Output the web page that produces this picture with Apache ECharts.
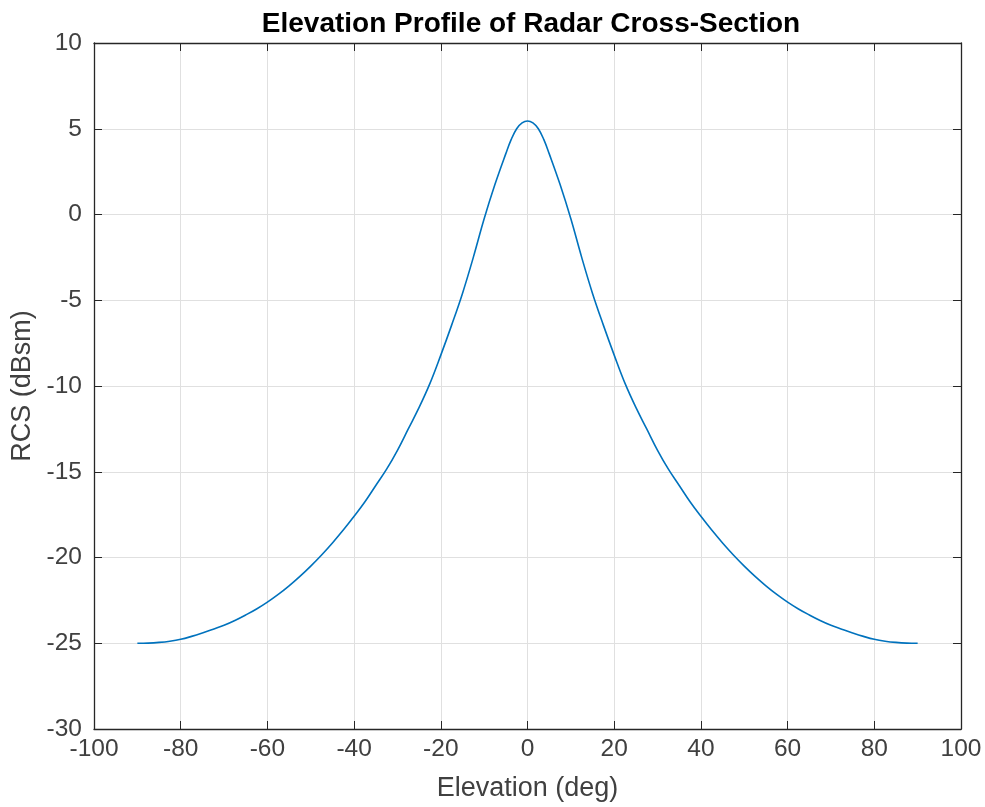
<!DOCTYPE html>
<html>
<head>
<meta charset="utf-8">
<script src="https://cdn.jsdelivr.net/npm/echarts@6/dist/echarts.min.js"></script>
<style>
  html, body { margin: 0; padding: 0; background: #fff; }
  #chart { width: 985px; height: 807px; }
</style>
</head>
<body>
<div id="chart"></div>
<script>
// elevation angles (deg) and RCS (dBsm)
const elevation = [-90, -87.5, -85, -82.5, -80, -77.5, -75, -72.5, -70, -67.5, -65, -62.5, -60, -57.5, -55, -52.5, -50, -47.5, -45, -42.5,
  -40, -37.5, -35, -32.5, -30, -27.5, -25, -22.5, -20, -17.5, -15, -12.5, -10, -7.5, -5, -3.75, -2.5, -1.25, 0,
  1.25, 2.5, 3.75, 5, 7.5, 10, 12.5, 15, 17.5, 20, 22.5, 25, 27.5, 30, 32.5, 35, 37.5, 40,
  42.5, 45, 47.5, 50, 52.5, 55, 57.5, 60, 62.5, 65, 67.5, 70, 72.5, 75, 77.5, 80, 82.5, 85, 87.5, 90];
const rcs = [-25.0, -24.99, -24.95, -24.88, -24.77, -24.6, -24.4, -24.18, -23.95, -23.67, -23.35, -23.0, -22.6, -22.15, -21.65, -21.1, -20.5, -19.85, -19.15, -18.4,
  -17.6, -16.75, -15.8, -14.85, -13.75, -12.5, -11.25, -9.85, -8.2, -6.45, -4.6, -2.5, -0.25, 1.76, 3.55, 4.38, 5.0, 5.34, 5.45,
  5.34, 5.0, 4.38, 3.55, 1.76, -0.25, -2.5, -4.6, -6.45, -8.2, -9.85, -11.25, -12.5, -13.75, -14.85, -15.8, -16.75, -17.6,
  -18.4, -19.15, -19.85, -20.5, -21.1, -21.65, -22.15, -22.6, -23.0, -23.35, -23.67, -23.95, -24.18, -24.4, -24.6, -24.77, -24.88, -24.95, -24.99, -25.0];

const font = 'Liberation Sans, Arial, sans-serif';
const axisColor = '#262626';
const textColor = '#404040';
const gridColor = '#e0e0e0';

const chart = echarts.init(document.getElementById('chart'));

const boxAxis = {
  axisLine: { show: true, onZero: false, lineStyle: { color: axisColor, width: 1.3 } },
  axisTick: { show: true, inside: true, length: 8, lineStyle: { color: axisColor } },
  axisLabel: { show: false },
  splitLine: { show: false }
};

chart.setOption({
  animation: false,
  title: {
    text: 'Elevation Profile of Radar Cross-Section',
    left: 526, top: 5, textAlign: 'center',
    textStyle: { fontFamily: font, fontSize: 28, fontWeight: 'bold', color: '#000' }
  },
  grid: { left: 94, right: 24, top: 43, bottom: 78 },
  xAxis: [{
    type: 'value', min: -100, max: 100, interval: 20,
    name: 'Elevation (deg)', nameLocation: 'middle', nameGap: 46,
    nameTextStyle: { fontFamily: font, fontSize: 27, color: textColor },
    axisLine: { show: true, onZero: false, lineStyle: { color: axisColor, width: 1.3 } },
    axisTick: { show: true, inside: true, length: 8, lineStyle: { color: axisColor } },
    axisLabel: { fontFamily: font, fontSize: 24.5, color: textColor, margin: 8 },
    splitLine: { show: true, lineStyle: { color: gridColor, width: 1 } }
  }, Object.assign({ type: 'value', position: 'top', min: -100, max: 100, interval: 20 }, boxAxis)],
  yAxis: [{
    type: 'value', min: -30, max: 10, interval: 5,
    name: 'RCS (dBsm)', nameLocation: 'middle', nameGap: 56,
    nameTextStyle: { fontFamily: font, fontSize: 27, color: textColor },
    axisLine: { show: true, onZero: false, lineStyle: { color: axisColor, width: 1.3 } },
    axisTick: { show: true, inside: true, length: 8, lineStyle: { color: axisColor } },
    axisLabel: { fontFamily: font, fontSize: 24.5, color: textColor, margin: 12 },
    splitLine: { show: true, lineStyle: { color: gridColor, width: 1 } }
  }, Object.assign({ type: 'value', position: 'right', min: -30, max: 10, interval: 5 }, boxAxis)],
  series: [{
    type: 'line',
    data: elevation.map((e, i) => [e, rcs[i]]),
    smooth: 0.4,
    showSymbol: false,
    lineStyle: { color: '#0072BD', width: 1.6 }
  }]
});
</script>
</body>
</html>
